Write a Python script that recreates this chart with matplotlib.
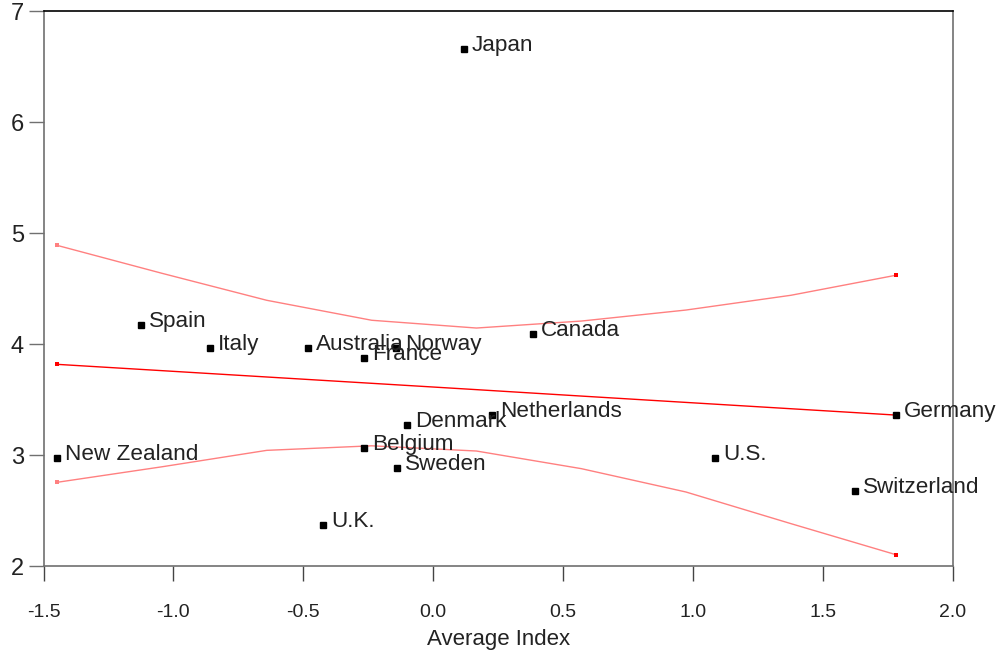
import matplotlib.pyplot as plt

plt.rcParams['font.family'] = ['Liberation Sans', 'DejaVu Sans']

# country points
countries = ['Japan', 'Spain', 'Italy', 'Australia', 'France', 'Norway', 'Canada',
             'Netherlands', 'Denmark', 'Belgium', 'Sweden', 'New Zealand', 'U.K.',
             'Germany', 'U.S.', 'Switzerland']
avg_index = [0.117, -1.125, -0.86, -0.483, -0.267, -0.142, 0.383,
             0.225, -0.102, -0.267, -0.14, -1.448, -0.426,
             1.779, 1.083, 1.621]
value = [6.655, 4.168, 3.96, 3.96, 3.87, 3.96, 4.087,
         3.36, 3.27, 3.063, 2.886, 2.973, 2.37,
         3.364, 2.973, 2.676]

# fitted line and confidence band
fit_x = [-1.448, -1.044, -0.641, -0.237, 0.166, 0.570, 0.972, 1.376, 1.779]
fit_y = [3.817, 3.760, 3.703, 3.646, 3.589, 3.531, 3.474, 3.417, 3.360]
upper = [4.889, 4.637, 4.394, 4.214, 4.144, 4.207, 4.306, 4.439, 4.619]
lower = [2.754, 2.894, 3.042, 3.083, 3.036, 2.877, 2.667, 2.382, 2.103]

fig = plt.figure(figsize=(10, 6.6), dpi=100)
ax = fig.add_axes([0.0435, 0.1424, 0.9095, 0.8409])

ax.plot(fit_x, upper, color='#ff8080', lw=1)
ax.plot(fit_x, lower, color='#ff8080', lw=1)
ax.plot(fit_x, fit_y, color='#ff0000', lw=1)
for ys, c in [(upper, '#ff8080'), (lower, '#ff8080'), (fit_y, '#ff0000')]:
    ax.plot([fit_x[0]], [ys[0]], 's', color=c, ms=2.5, mew=0)
    ax.plot([fit_x[-1]], [ys[-1]], 's', color='#ff0000', ms=2.5, mew=0)

ax.plot(avg_index, value, 's', color='black', ms=4.5, ls='none')
for name, x, y in zip(countries, avg_index, value):
    ax.annotate(name, (x, y), xytext=(6, 2.5), textcoords='offset points',
                va='center', ha='left', fontsize=16.2, color='#222222')

ax.set_xlim(-1.5, 2.0)
ax.set_ylim(2, 7)
ax.set_xticks([-1.5, -1.0, -0.5, 0.0, 0.5, 1.0, 1.5, 2.0])
ax.set_xticklabels(['-1.5', '-1.0', '-0.5', '0.0', '0.5', '1.0', '1.5', '2.0'])
ax.set_yticks([2, 3, 4, 5, 6, 7])

for s in ['left', 'bottom', 'right']:
    ax.spines[s].set_color('#707070')
    ax.spines[s].set_linewidth(1.2)
ax.spines['top'].set_color('black')
ax.spines['top'].set_linewidth(1.2)

ax.tick_params(axis='x', direction='out', length=11, width=1, color='#444444',
               pad=16, labelsize=14, labelcolor='#222222')
ax.tick_params(axis='y', direction='out', length=11, width=1, color='#707070',
               pad=3, labelsize=17, labelcolor='#222222')
ax.set_xlabel('Average Index', fontsize=16, color='#222222', labelpad=6)

fig.savefig('out.png', dpi=100)
